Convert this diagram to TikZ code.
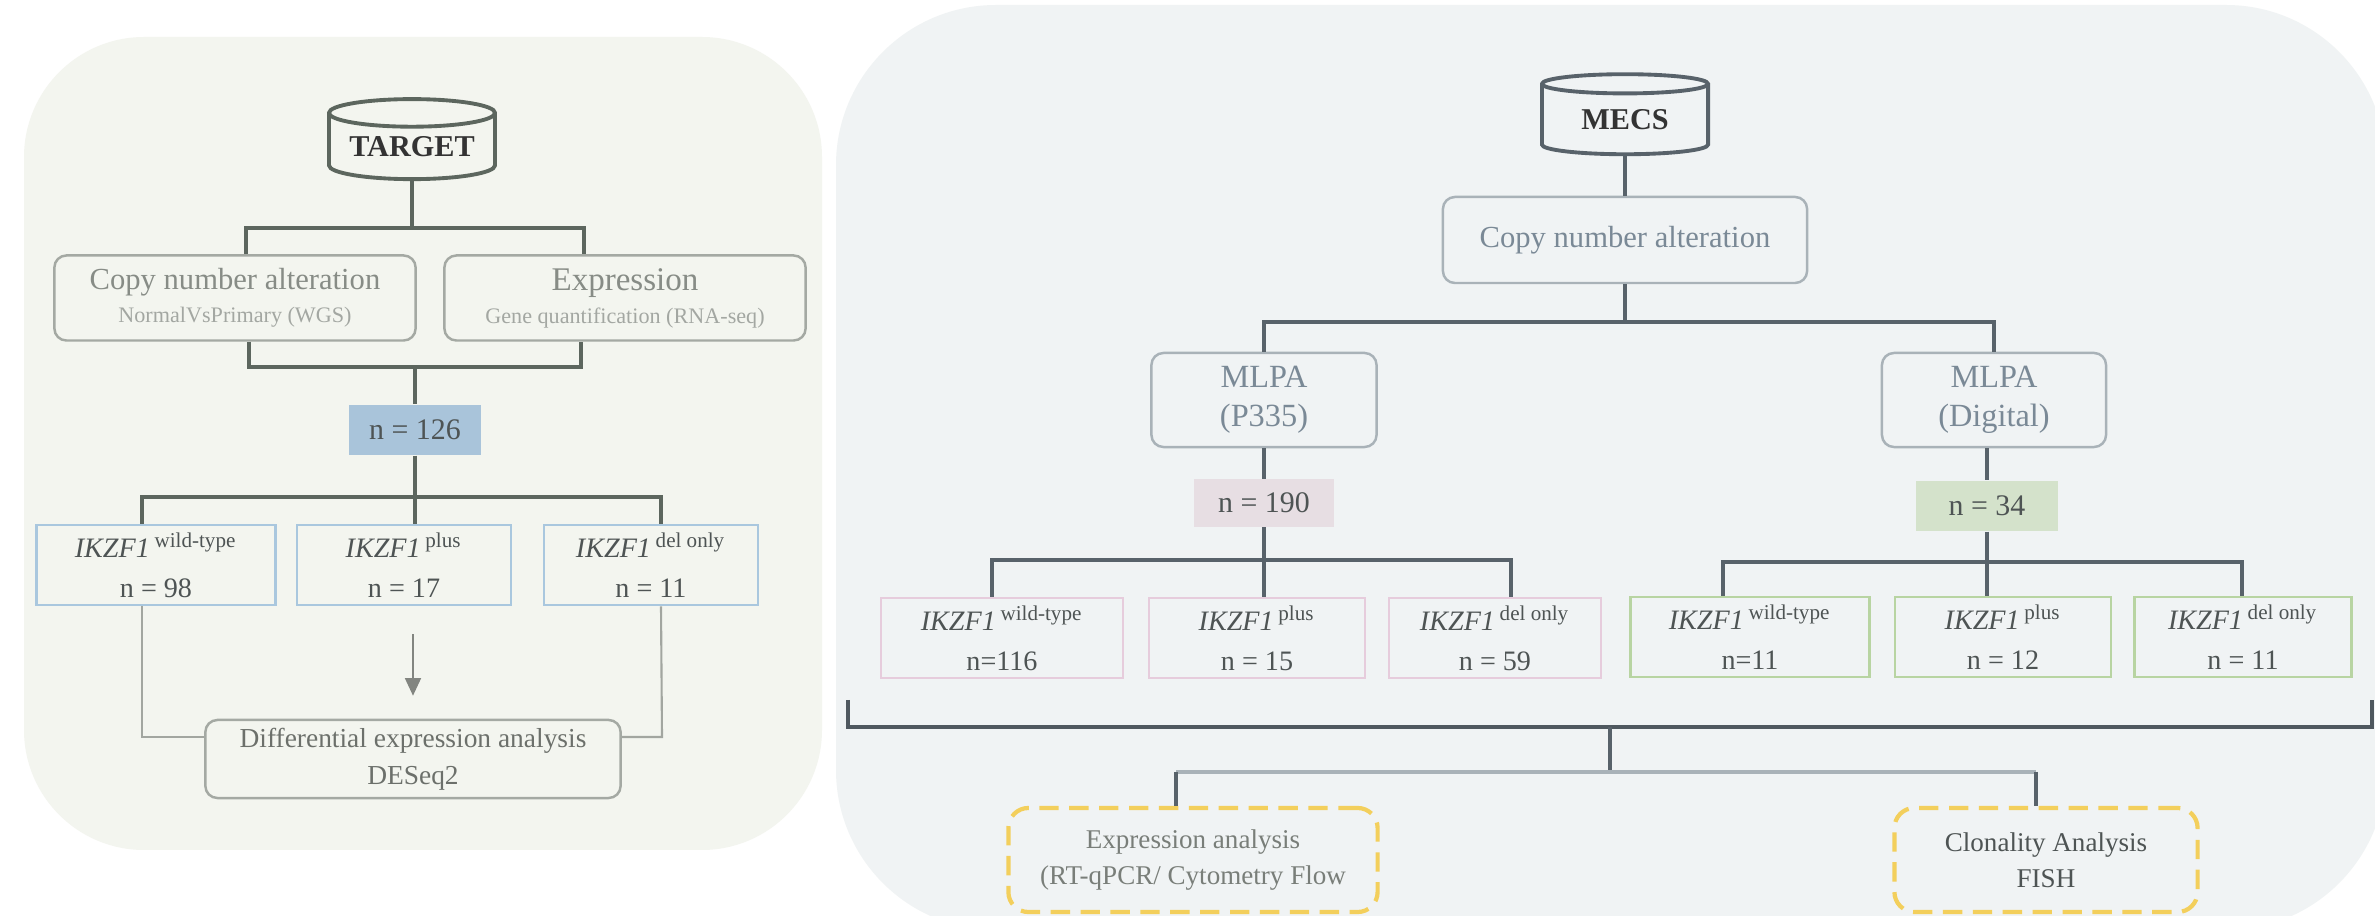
\documentclass[tikz,border=0pt]{standalone}
\usepackage{fontspec}
\setmainfont{Liberation Serif}
\usetikzlibrary{shapes.geometric,arrows.meta}

\definecolor{lpanelbg}{HTML}{F3F5EF}
\definecolor{rpanelbg}{HTML}{F0F3F4}
\definecolor{lline}{HTML}{5C665E}
\definecolor{rline}{HTML}{58626A}
\definecolor{boxgray}{HTML}{A4A9A3}
\definecolor{rboxgray}{HTML}{A9B2B8}
\definecolor{txtgray}{HTML}{878C86}
\definecolor{subgray}{HTML}{A3A7A2}
\definecolor{rtxtgray}{HTML}{7A8996}
\definecolor{ntxt}{HTML}{4E5454}
\definecolor{bluefill}{HTML}{A9C4DA}
\definecolor{blueedge}{HTML}{A9C7DE}
\definecolor{pinkfill}{HTML}{E7DEE3}
\definecolor{pinkedge}{HTML}{E6CCDC}
\definecolor{greenfill}{HTML}{D4E2CB}
\definecolor{greenedge}{HTML}{B8D4A2}
\definecolor{yellowedge}{HTML}{F3CF5C}
\definecolor{thingray}{HTML}{A2A6A0}

\newcommand\subsz{\fontsize{6.3}{7.5}\selectfont}
\newcommand\ikzf[1]{\textit{IKZF1}\,\textsuperscript{#1}}

\tikzset{
db/.style={cylinder, shape border rotate=90, aspect=0.22, draw=#1, line width=1.1pt, minimum width=1.66cm, minimum height=0.8cm, inner sep=0pt, font=\fontsize{8.6}{10}\selectfont\bfseries, text=black!80},
cbox/.style={draw=#1, rounded corners=0.12cm, line width=0.7pt, align=center, inner sep=0pt},
nbox/.style={fill=#1, text=ntxt, inner sep=0pt, font=\fontsize{8.5}{10}\selectfont},
kbox/.style={draw=#1, line width=0.8pt, align=center, inner sep=0pt, text=ntxt, minimum height=0.8cm, font=\fontsize{8}{11.4}\selectfont},
ybox/.style={draw=yellowedge, dash pattern=on 5.5pt off 3pt, line width=1.2pt, rounded corners=0.2cm, align=center, inner sep=0pt, font=\fontsize{7.7}{10.2}\selectfont},
lconn/.style={draw=lline, line width=1pt},
rconn/.style={draw=rline, line width=1pt},
thinconn/.style={draw=thingray, line width=0.6pt},
lightconn/.style={draw=rboxgray, line width=1pt},
bracket/.style={draw=rline!90!black, line width=1.3pt}
}

\begin{document}
\begin{tikzpicture}[x=0.01cm,y=-0.01cm]
\useasboundingbox (0,0) rectangle (2375,916);
\clip (0,0) rectangle (2375,916);
\fill[white] (0,0) rectangle (2375,916);
\fill[lpanelbg, rounded corners=1.2cm] (24,37) rectangle (822,850);
\fill[rpanelbg, rounded corners=1.6cm] (836,5) rectangle (2386,930);

\node[db=lline] (target) at (412,147) {TARGET};
\node[cbox=boxgray, text=txtgray, minimum width=3.61cm, minimum height=0.85cm, font=\fontsize{8.7}{9.4}\selectfont] (l-cna) at (235,298) {Copy number alteration\\{\subsz\color{subgray}NormalVsPrimary (WGS)}};
\node[cbox=boxgray, text=txtgray, minimum width=3.61cm, minimum height=0.85cm, font=\fontsize{9.4}{9.4}\selectfont] (l-exp) at (625,298) {Expression\\{\subsz\color{subgray}Gene quantification (RNA-seq)}};
\node[nbox=bluefill, minimum width=1.32cm, minimum height=0.5cm] (l-n) at (415,430) {n = 126};
\node[kbox=blueedge, minimum width=2.39cm] (b1) at (156,565) {\ikzf{wild-type}\\n = 98}; \node[kbox=blueedge, minimum width=2.14cm] (b2) at (404,565) {\ikzf{plus}\\n = 17}; \node[kbox=blueedge, minimum width=2.14cm] (b3) at (651,565) {\ikzf{del only}\\n = 11};
\node[cbox=boxgray, text=txtgray!80!black, minimum width=4.15cm, minimum height=0.78cm, font=\fontsize{7.8}{10.5}\selectfont] (dea) at (413,759) {Differential expression analysis\\DESeq2};

\coordinate (lt1) at (246,228); \coordinate (lt2) at (584,228); \coordinate (lb1) at (249,367); \coordinate (lb2) at (581,367);
\coordinate (lc1) at (142,497); \coordinate (lc3) at (661,497); \coordinate (ld1) at (142,737); \coordinate (ld3) at (662,737);
\draw[lconn] (target) -- (target |- lt1);
\draw[lconn] (lt1 |- l-cna.north) |- (lt2) -- (lt2 |- l-exp.north);
\draw[lconn] (lb1 |- l-cna.south) |- (lb2) -- (lb2 |- l-exp.south);
\draw[lconn] (lb1 -| l-n) -- (l-n);
\draw[lconn] (l-n) -- (lc1 -| l-n) -- (b2.north -| l-n);
\draw[lconn] (lc1 |- b1.north) |- (lc3) -- (lc3 |- b3.north);
\draw[thinconn] (lc1 |- b1.south) -- (ld1) -- (ld1 -| dea.west);
\draw[thinconn] (lc3 |- b3.south) -- (ld3) -- (ld3 -| dea.east);
\draw[thinconn, draw=thingray!80!black, -{Triangle[length=5pt,width=4.5pt]}, shorten <=0.28cm, shorten >=0.23cm] (b2.south -| dea.north) -- (dea.north);

\node[db=rline] (mecs) at (1625,120) {MECS};
\node[cbox=rboxgray, text=rtxtgray, minimum width=3.64cm, minimum height=0.86cm, font=\fontsize{8.7}{10}\selectfont] (r-cna) at (1625,240) {Copy number alteration};
\node[cbox=rboxgray, text=rtxtgray, minimum width=2.25cm, minimum height=0.94cm, font=\fontsize{9.2}{11}\selectfont] (mlpa1) at (1264,400) {MLPA\\(P335)};
\node[cbox=rboxgray, text=rtxtgray, minimum width=2.24cm, minimum height=0.94cm, font=\fontsize{9.2}{11}\selectfont] (mlpa2) at (1994,400) {MLPA\\(Digital)};
\node[nbox=pinkfill, minimum width=1.4cm, minimum height=0.47cm] (n190) at (1264,503) {n = 190};
\node[nbox=greenfill, minimum width=1.42cm, minimum height=0.5cm] (n34) at (1987,506) {n = 34};
\node[kbox=pinkedge, minimum width=2.42cm] (p1) at (1002,638) {\ikzf{wild-type}\\n=116}; \node[kbox=pinkedge, minimum width=2.16cm] (p2) at (1257,638) {\ikzf{plus}\\n = 15}; \node[kbox=pinkedge, minimum width=2.12cm] (p3) at (1495,638) {\ikzf{del only}\\n = 59};
\node[kbox=greenedge, minimum width=2.39cm] (g1) at (1750,637) {\ikzf{wild-type}\\n=11}; \node[kbox=greenedge, minimum width=2.16cm] (g2) at (2003,637) {\ikzf{plus}\\n = 12}; \node[kbox=greenedge, minimum width=2.17cm] (g3) at (2243,637) {\ikzf{del only}\\n = 11};
\node[ybox, text=txtgray!90!black, minimum width=3.69cm, minimum height=1.04cm] (y1) at (1193,860) {Expression analysis\\(RT-qPCR/ Cytometry Flow};
\node[ybox, text=ntxt, minimum width=3.03cm, minimum height=1.04cm] (y2) at (2046,860) {Clonality Analysis\\FISH};

\coordinate (rt1) at (1264,322); \coordinate (rt2) at (1994,322);
\coordinate (rp1) at (992,560); \coordinate (rp3) at (1511,560); \coordinate (rg1) at (1723,562); \coordinate (rg3) at (2242,562);
\coordinate (br1) at (848,700); \coordinate (br2) at (2372,700); \coordinate (brm) at (1610,727);
\coordinate (yl) at (1176,772); \coordinate (ym) at (1610,772); \coordinate (yr) at (2036,772);
\draw[rconn] (mecs) -- (mecs |- r-cna.north);
\draw[rconn] (r-cna) -- (r-cna |- rt1);
\draw[rconn] (rt1 |- mlpa1.north) |- (rt2) -- (rt2 |- mlpa2.north);
\draw[rconn] (mlpa1) -- (n190); \draw[rconn] (mlpa2.south -| n34) -- (n34);
\draw[rconn] (n190) -- (n190 |- rp1) -- (n190 |- p2.north);
\draw[rconn] (rp1 |- p1.north) |- (rp3) -- (rp3 |- p3.north);
\draw[rconn] (n34) -- (n34 |- rg1) -- (n34 |- g2.north);
\draw[rconn] (rg1 |- g1.north) |- (rg3) -- (rg3 |- g3.north);
\draw[bracket] (br1) |- (brm) -| (br2);
\draw[rconn] (brm) -- (ym);
\draw[lightconn] (yl) -- (yr);
\draw[rconn] (yl) -- (yl |- y1.north); \draw[rconn] (yr) -- (yr |- y2.north);
\end{tikzpicture}
\end{document}
